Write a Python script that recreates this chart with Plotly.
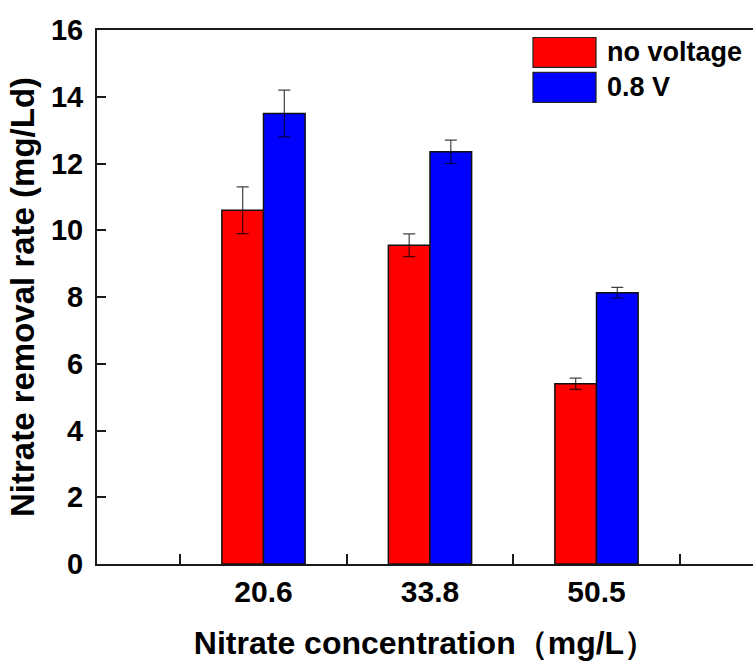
import plotly.graph_objects as go

categories = ["20.6", "33.8", "50.5"]
series_names = ["no voltage", "0.8 V"]
no_voltage = [10.6, 9.55, 5.4]
no_voltage_err = [0.7, 0.34, 0.17]
v08 = [13.5, 12.35, 8.13]
v08_err = [0.7, 0.35, 0.16]
colors = ["#ff0000", "#0000ff"]
y_ticks = [0, 2, 4, 6, 8, 10, 12, 14, 16]

FONT = "Liberation Sans, Arial, sans-serif"
xpos = [i + 1 for i in range(len(categories))]
minor_x = [i + 0.5 for i in range(len(categories) + 1)]

fig = go.Figure()
for name, vals, errs, col in zip(series_names, [no_voltage, v08], [no_voltage_err, v08_err], colors):
    fig.add_trace(go.Bar(
        x=xpos, y=vals, name=name,
        marker=dict(color=col, line=dict(color="#111", width=1.5)),
        error_y=dict(type="data", array=errs, visible=True,
                     color="rgba(0,0,0,0.75)", thickness=1.2, width=6),
        showlegend=False,
    ))

# custom legend (large boxes like the reference)
box_y = [(0.930, 0.986), (0.8644, 0.9205)]
for (y0, y1), name, col in zip(box_y, series_names, colors):
    fig.add_shape(type="rect", xref="paper", yref="paper",
                  x0=0.6646, x1=0.7607, y0=y0, y1=y1,
                  fillcolor=col, line=dict(color="#222", width=1.2))
    fig.add_annotation(xref="paper", yref="paper", x=0.7744, y=(y0 + y1) / 2,
                       text=name, showarrow=False, xanchor="left", yanchor="middle",
                       font=dict(family=FONT, size=27, color="black", weight="bold"))

fig.update_layout(
    width=753, height=661,
    margin=dict(l=97, r=0, t=30, b=97),
    paper_bgcolor="white", plot_bgcolor="white",
    barmode="group", bargap=0.5, bargroupgap=0,
    font=dict(family=FONT, color="black"),
)
fig.update_xaxes(
    range=[0, 3.94],
    tickmode="array", tickvals=xpos, ticktext=categories,
    ticks="", showgrid=False, zeroline=False,
    showline=True, linecolor="#1a1a1a", linewidth=2, mirror=True,
    tickfont=dict(family=FONT, size=30, color="black", weight="bold"),
    minor=dict(tickmode="array", tickvals=minor_x,
               ticks="inside", ticklen=10, tickwidth=2, tickcolor="#1a1a1a"),
    title=dict(text="Nitrate concentration（mg/L）", standoff=32,
               font=dict(family=FONT, size=32, color="black", weight="bold")),
)
fig.update_yaxes(
    range=[0, 16], tickmode="array", tickvals=y_ticks,
    ticks="inside", ticklen=9, tickwidth=2, tickcolor="#1a1a1a",
    showgrid=False, zeroline=False,
    showline=True, linecolor="#1a1a1a", linewidth=2, mirror=False,
    tickfont=dict(family=FONT, size=29, color="black", weight="bold"),
    ticklabelstandoff=6,
    title=dict(text="Nitrate removal rate (mg/Ld)", standoff=6,
               font=dict(family=FONT, size=33, color="black", weight="bold")),
)

fig.write_html("out.html")
